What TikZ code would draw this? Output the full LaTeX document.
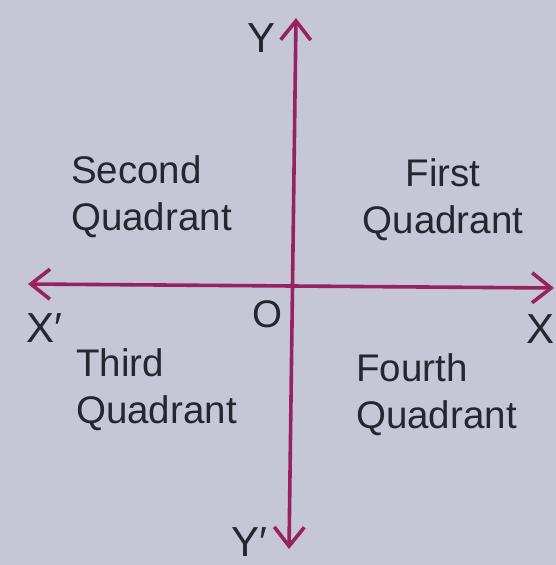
\documentclass[tikz,border=0pt]{standalone}
\usepackage{fontspec}
\setmainfont{Liberation Sans}
\usetikzlibrary{arrows.meta}
\definecolor{bgc}{RGB}{197,198,214}
\definecolor{axc}{RGB}{150,35,95}
\definecolor{txc}{RGB}{38,38,48}
\begin{document}
\begin{tikzpicture}[x=1pt,y=-1pt,
  axis/.style={draw=axc,line width=3.6pt,-{Straight Barb[length=19pt,width=30pt,line width=3.6pt]}},
  quad/.style={text=txc,inner sep=0pt,anchor=base west,align=left,font=\fontsize{38.5}{46.5}\selectfont},
  quadc/.style={quad,align=center,anchor=base},
  lab/.style={text=txc,inner sep=0pt,anchor=base west,font=\fontsize{42}{46}\selectfont}]
\fill[bgc] (0,0) rectangle (556,565);
\useasboundingbox (0,0) rectangle (556,565);
\coordinate (ytop) at (296,18);
\coordinate (ybot) at (289,549);
\coordinate (xl) at (28,284);
\coordinate (xr) at (554,288);
\coordinate (mid) at (292.5,286);
\draw[axis] (mid) -- (ytop);
\draw[axis] (mid) -- (ybot);
\draw[axis] (mid) -- (xl);
\draw[axis] (mid) -- (xr);
\node[lab] (Y) at (247,52) {Y};
\node[lab] (Yp) at (231,556) {Y′};
\node[lab] (Xp) at (26,342) {X′};
\node[lab] (X) at (526,343) {X};
\node[quad] (O) at (252,327) {O};
\node[quad] (q2) at (71,230) {Second\\Quadrant};
\node[quadc] (q1) at (443,233) {First\\Quadrant};
\node[quad] (q3) at (76,423) {Third\\Quadrant};
\node[quad] (q4) at (356,428) {Fourth\\Quadrant};
\end{tikzpicture}
\end{document}
